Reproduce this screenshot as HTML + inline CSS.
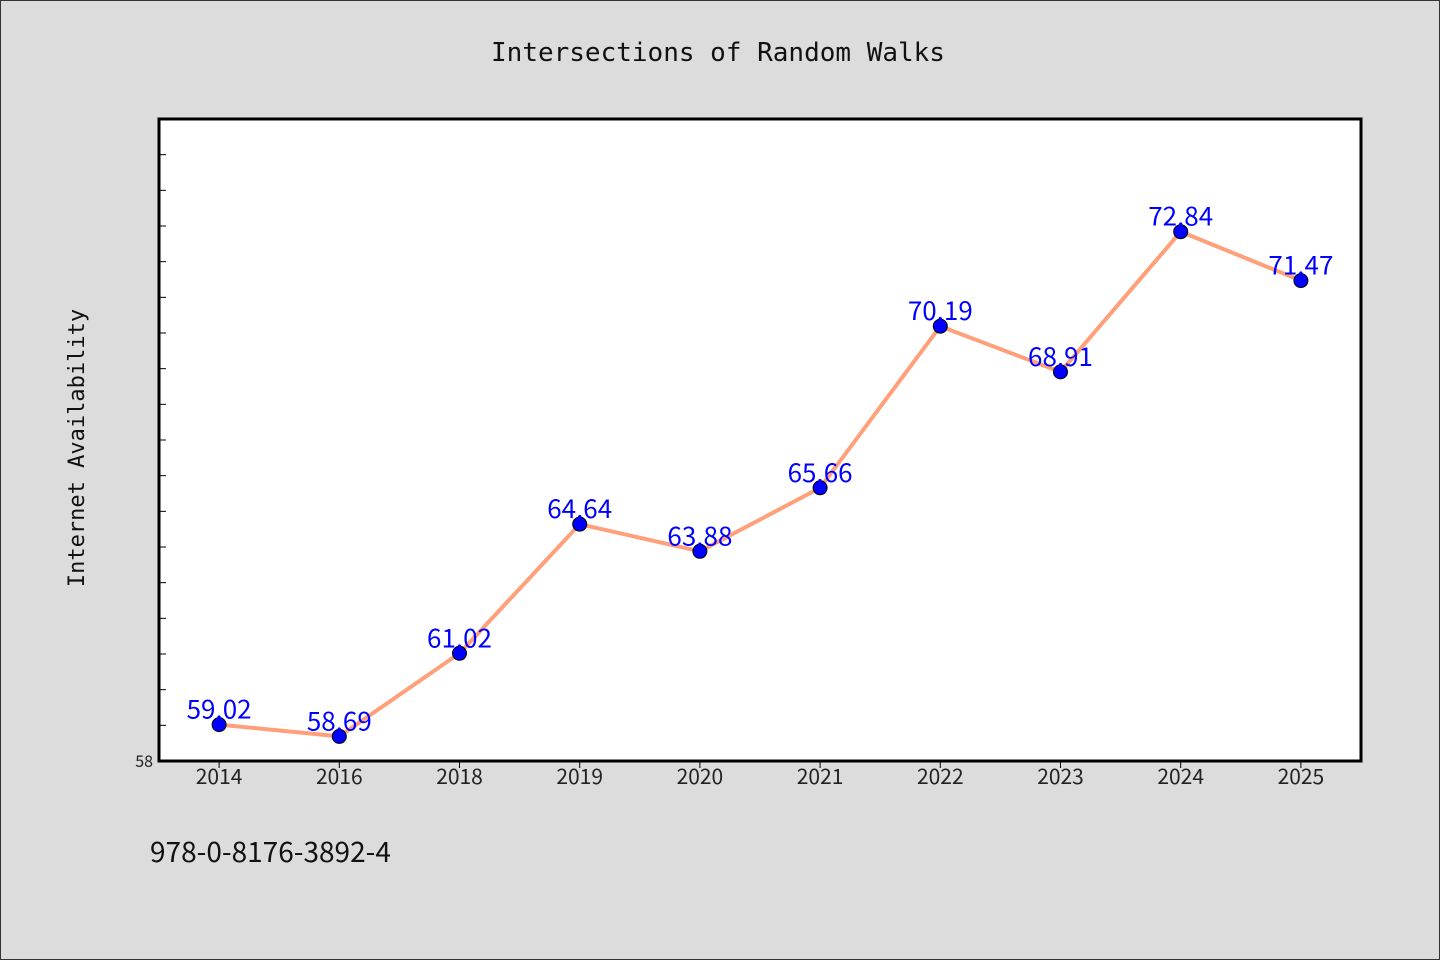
<!DOCTYPE html>
<html><head><meta charset="utf-8"><style>
html,body{margin:0;padding:0;background:#dcdcdc;}
svg{display:block;font-family:"WenQuanYi Zen Hei","Noto Sans CJK SC",sans-serif;}
</style></head><body>
<svg id="chart" width="1440" height="960">
<rect x="0.5" y="0.5" width="1439" height="959" fill="#dcdcdc" stroke="#333"/>
<text x="718" y="61" text-anchor="middle" font-size="26" font-family="'DejaVu Sans Mono',monospace" fill="#111">Intersections of Random Walks</text>
<rect x="159" y="119" width="1202" height="642" fill="#fff" stroke="#000" stroke-width="3"/>
<text transform="translate(84,448) rotate(-90)" text-anchor="middle" font-size="22" font-family="'DejaVu Sans Mono',monospace" fill="#111">Internet Availability</text>
<text x="150" y="862" font-size="28" fill="#111">978-0-8176-3892-4</text>
<g id="axes"></g><g id="marks"></g>
</svg>
<script>
const categories=["2014","2016","2018","2019","2020","2021","2022","2023","2024","2025"];
const values=[59.02,58.69,61.02,64.64,63.88,65.66,70.19,68.91,72.84,71.47];
const labels=["59.02","58.69","61.02","64.64","63.88","65.66","70.19","68.91","72.84","71.47"];
const yMin=58,yMax=76;
const L=159,R=1361,T=119,B=761;
const ns="http://www.w3.org/2000/svg";
const bw=(R-L)/categories.length;
function x(i){return L+bw*(i+0.5);}
function y(v){return B-(v-yMin)/(yMax-yMin)*(B-T);}
function mk(t,a,p){const e=document.createElementNS(ns,t);for(const k in a)e.setAttribute(k,a[k]);p.appendChild(e);return e;}
const ax=document.getElementById('axes'),mg=document.getElementById('marks');
for(let v=yMin+1;v<yMax;v++){
 const t=mk('line',{x1:L,x2:L+7,y1:y(v),y2:y(v),stroke:'#000','stroke-width':1},ax);
 
 
}
const yl=mk('text',{x:153,y:B+6,'text-anchor':'end','font-size':16,fill:'#222'},ax);
yl.textContent=String(yMin);


categories.forEach((c,i)=>{
 const t=mk('line',{x1:x(i),x2:x(i),y1:B,y2:B+7,stroke:'#000'},ax);
 
 
 const l=mk('text',{x:x(i),y:B+23,'text-anchor':'middle','font-size':21,fill:'#222'},ax);
 l.textContent=c;
 
 
});
const pl=mk('polyline',{points:values.map((v,i)=>x(i)+','+y(v)).join(' '),fill:'none',stroke:'#ffa07a','stroke-width':4},mg);


values.forEach((v,i)=>{
 const c=mk('circle',{cx:x(i),cy:y(v),r:7,fill:'#0000ff',stroke:'#000','stroke-width':1},mg);
 
 
 const t=mk('text',{x:x(i),y:y(v)-6,'text-anchor':'middle','font-size':26,fill:'#0000ff'},mg);
 t.textContent=labels[i];
 
 
});
</script>
</body></html>
